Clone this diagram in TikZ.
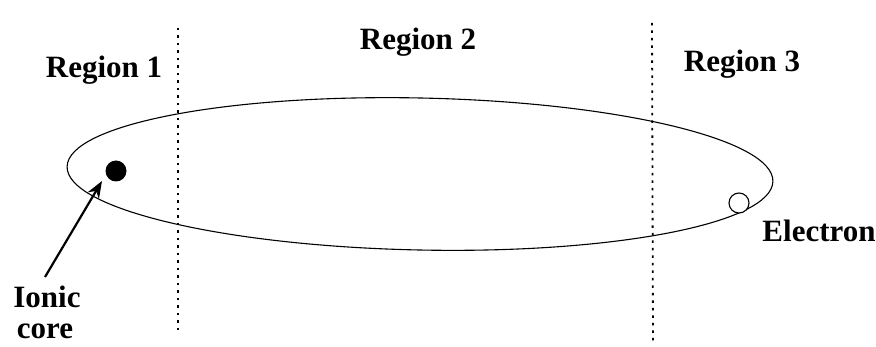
\documentclass[tikz,border=0pt]{standalone}
\usepackage{fontspec}
\setmainfont{Liberation Serif}
\usetikzlibrary{shapes.geometric,arrows.meta}
\begin{document}
\begin{tikzpicture}[x=1pt,y=-1pt,
  lbl/.style={font=\fontsize{31}{34}\selectfont\bfseries, inner sep=0pt, anchor=base},
  divider/.style={line width=1.8pt, dash pattern=on 2.5pt off 5pt},
  orbit/.style={line width=1.1pt}]
\useasboundingbox (0,0) rectangle (876,347);
\coordinate (d1t) at (178,28);
\coordinate (d1b) at (178,332);
\coordinate (d2t) at (652,23);
\coordinate (d2b) at (653,343);
\draw[divider] (d1t) -- (d1b);
\draw[divider] (d2t) -- (d2b);
\node[orbit, draw, ellipse, minimum width=706pt, minimum height=152pt, rotate=-1.2, inner sep=0pt] (orb) at (420,174) {};
\node[circle, fill=black, minimum size=21pt, inner sep=0pt] (core) at (116,171) {};
\node[circle, draw, fill=white, line width=1.1pt, minimum size=20pt, inner sep=0pt] (el) at (739,203) {};
\node[lbl] (r1) at (104,78) {Region 1};
\node[lbl] (r2) at (418,50) {Region 2};
\node[lbl] (r3) at (742,72) {Region 3};
\node[lbl] (elab) at (819,242) {Electron};
\node[lbl] (ion) at (47,308) {Ionic};
\node[lbl] (ion2) at (45,339) {core};
\coordinate (arrstart) at (45,277);
\draw[line width=2.2pt, -{Stealth[length=17pt,width=13pt]}] (arrstart) -- (102,181);
\end{tikzpicture}
\end{document}
